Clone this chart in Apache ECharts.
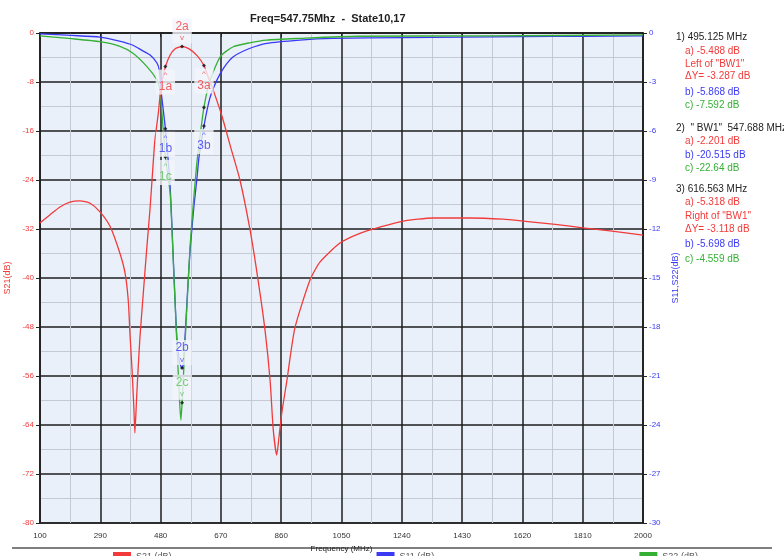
<!DOCTYPE html>
<html lang="en" style="height: 100%">
<head>
<meta charset="utf-8">
<title>Filter response</title>
</head>
<body style="height: 100%; margin: 0; background: #fff">
<div id="container" style="height: 100%"></div>

<script type="text/javascript" src="https://cdn.jsdelivr.net/npm/echarts@6/dist/echarts.min.js"></script>

<script type="text/javascript">

// frequency axis (MHz)
var xMin = 100;
var xMax = 2000;
var xStep = 190;

// S21 trace (left axis, dB)
var s21Freq = [100, 131, 163, 194, 226, 258, 289, 321, 352, 368, 378, 384, 390, 396, 399, 404, 409, 415,
  425, 436, 447, 456, 462, 473, 478, 486, 495.125, 510, 525, 547.688, 570, 595, 616.563, 630, 645,
  673, 700, 730, 762, 787, 809, 825, 835, 846, 853, 862, 878, 903, 951, 982, 1045, 1108, 1171, 1244,
  1338, 1455, 1559, 1622, 1716, 1811, 1896, 2000];
var s21Val = [-31.0, -29.7, -28.4, -27.6, -27.4, -27.8, -29.2, -31.6, -36.0, -39.2, -43.6, -49.6, -55.0,
  -61.5, -65.3, -60.0, -55.0, -49.6, -42.8, -35.4, -28.5, -21.7, -17.5, -13.0, -10.4, -7.5, -5.488,
  -3.6, -2.6, -2.201, -2.6, -3.7, -5.318, -7.2, -9.2, -13.5, -18.5, -24.0, -32.2, -40.3, -48.5,
  -56.7, -64.8, -68.9, -66.0, -62.0, -56.7, -48.2, -40.3, -37.4, -34.3, -32.7, -31.7, -30.7, -30.2,
  -30.2, -30.4, -30.7, -31.2, -31.8, -32.3, -33.0];

// S11 trace (right axis, dB)
var s11Freq = [100, 200, 289, 350, 393, 420, 447, 469, 476, 483, 495.125, 510, 520, 531, 540, 547.688,
  552, 557, 565, 573, 585, 594, 601, 616.563, 635, 657, 680, 709, 760, 814, 919, 1023, 1240, 1430,
  1620, 1810, 2000];
var s11Val = [-0.05, -0.15, -0.25, -0.5, -0.75, -1.05, -1.35, -1.85, -2.3, -3.8, -5.868, -9.4, -13.8,
  -18.6, -20.2, -20.515, -20.2, -18.6, -15.8, -13.3, -10.6, -9.0, -7.6, -5.698, -4.0, -2.9, -2.1,
  -1.45, -0.95, -0.63, -0.43, -0.33, -0.28, -0.25, -0.22, -0.2, -0.17];

// S22 trace (right axis, dB)
var s22Freq = [100, 200, 289, 350, 393, 437, 469, 476, 483, 495.125, 510, 520, 531, 540, 544, 547.688,
  552, 557, 565, 573, 585, 594, 605, 616.563, 630, 646, 670, 709, 760, 814, 919, 1100, 1500, 2000];
var s22Val = [-0.18, -0.35, -0.53, -0.8, -1.24, -2.06, -2.88, -3.3, -4.6, -7.592, -9.8, -14.0, -18.9,
  -22.6, -23.7, -22.64, -21.0, -19.0, -16.0, -13.0, -10.0, -8.0, -6.2, -4.559, -3.3, -2.37, -1.4,
  -0.84, -0.6, -0.43, -0.33, -0.2, -0.18, -0.12];

// markers
var markerFreq = [495.125, 547.688, 616.563];
var markerA = [-5.488, -2.201, -5.318];
var markerB = [-5.868, -20.515, -5.698];
var markerC = [-7.592, -22.64, -4.559];
var deltaY = [-3.287, -3.118];

var RED = '#f23a3a';
var BLUE = '#3a3af5';
var GREEN = '#35b035';
var FONT = '"Liberation Sans", Arial, sans-serif';

var dom = document.getElementById('container');
var myChart = echarts.init(dom);

function pts(freq, val) {
  return freq.map(function (f, i) { return [f - xMin, val[i]]; });
}

function markerItems(vals, names, up, color) {
  return markerFreq.map(function (f, i) {
    var nm = names[i];
    return {
      value: [f - xMin, vals[i]],
      label: {
        show: nm != null,
        position: up[i] ? 'top' : 'bottom',
        distance: 1,
        formatter: up[i] ? '{n|' + nm + '}\n{c|v}' : '{c|^}\n{n|' + nm + '}',
        backgroundColor: '#f2f5fb',
        padding: [1, 3],
        align: 'center',
        rich: {
          n: { fontSize: 12, color: color, lineHeight: 14, fontFamily: FONT, align: 'center' },
          c: { fontSize: 8, color: color, lineHeight: 9, fontFamily: FONT, align: 'center' }
        }
      }
    };
  });
}

var upFlags = [false, true, false];

// annotation text on the right
var annot = [
  ['1) ' + markerFreq[0] + ' MHz', '#222', 676, 38],
  ['a) ' + markerA[0] + ' dB', RED, 685, 52],
  ['Left of "BW1"', RED, 685, 65],
  ['\u0394Y= ' + deltaY[0] + ' dB', RED, 685, 77],
  ['b) ' + markerB[0] + ' dB', BLUE, 685, 93],
  ['c) ' + markerC[0] + ' dB', GREEN, 685, 106],
  ['2)  " BW1"  ' + markerFreq[1] + ' MHz', '#222', 676, 129],
  ['a) ' + markerA[1] + ' dB', RED, 685, 142],
  ['b) ' + markerB[1] + ' dB', BLUE, 685, 156],
  ['c) ' + markerC[1] + ' dB', GREEN, 685, 169],
  ['3) ' + markerFreq[2] + ' MHz', '#222', 676, 190],
  ['a) ' + markerA[2] + ' dB', RED, 685, 203],
  ['Right of "BW1"', RED, 685, 217],
  ['\u0394Y= ' + deltaY[1] + ' dB', RED, 685, 230],
  ['b) ' + markerB[2] + ' dB', BLUE, 685, 245],
  ['c) ' + markerC[2] + ' dB', GREEN, 685, 260]
];

var graphics = annot.map(function (a) {
  return {
    type: 'text',
    left: a[2],
    top: a[3] - 6,
    style: { text: a[0], fill: a[1], font: '10px ' + FONT }
  };
});
graphics.push({
  type: 'line',
  shape: { x1: 12, y1: 548, x2: 772, y2: 548 },
  style: { stroke: '#555', lineWidth: 1.5 }
});

var option = {
  backgroundColor: '#fff',
  animation: false,
  title: {
    text: 'Freq=547.75Mhz  -  State10,17',
    left: 250,
    top: 13,
    padding: 0,
    textStyle: { fontSize: 11, fontWeight: 'bold', color: '#222', fontFamily: FONT }
  },
  legend: {
    data: ['S21 (dB)', 'S11 (dB)', 'S22 (dB)'],
    left: 113,
    top: 552,
    padding: 0,
    itemGap: 205,
    itemWidth: 18,
    itemHeight: 10,
    icon: 'rect',
    selectedMode: false,
    textStyle: { fontSize: 9, fontFamily: FONT, color: '#555' }
  },
  grid: {
    left: 40,
    right: 141,
    top: 33,
    bottom: 33,
    outerBoundsMode: 'none',
    show: true,
    backgroundColor: '#eaf0fa',
    borderColor: '#333',
    borderWidth: 1.5
  },
  xAxis: {
    type: 'value',
    min: 0,
    max: xMax - xMin,
    interval: xStep,
    name: 'Frequency (MHz)',
    nameLocation: 'middle',
    nameGap: 17,
    nameTextStyle: { fontSize: 8, color: '#222', fontFamily: FONT },
    axisLine: { show: true, lineStyle: { color: '#222', width: 1.5 } },
    axisTick: { show: true, length: 4, lineStyle: { color: '#222' } },
    axisLabel: {
      fontSize: 8, color: '#333', margin: 9, fontFamily: FONT,
      formatter: function (v) { return v + xMin; }
    },
    splitLine: { show: true, lineStyle: { color: '#1e1e1e', width: 1.5 } },
    minorTick: { show: false, splitNumber: 2 },
    minorSplitLine: { show: true, lineStyle: { color: '#c4c9d2', width: 1 } }
  },
  yAxis: [
    {
      type: 'value',
      position: 'left',
      min: -80,
      max: 0,
      interval: 8,
      name: 'S21(dB)',
      nameLocation: 'middle',
      nameGap: 20,
      nameTextStyle: { fontSize: 9, color: RED, fontFamily: FONT },
      axisLine: { show: true, lineStyle: { color: '#222', width: 1.5 } },
      axisTick: { show: true, length: 4, lineStyle: { color: '#222' } },
      axisLabel: { fontSize: 8, color: RED, margin: 6, fontFamily: FONT },
      splitLine: { show: true, lineStyle: { color: '#1e1e1e', width: 1.5 } },
      minorTick: { show: false, splitNumber: 2 },
      minorSplitLine: { show: true, lineStyle: { color: '#c4c9d2', width: 1 } }
    },
    {
      type: 'value',
      position: 'right',
      min: -30,
      max: 0,
      interval: 3,
      name: 'S11,S22(dB)',
      nameLocation: 'middle',
      nameGap: 20,
      nameTextStyle: { fontSize: 9, color: BLUE, fontFamily: FONT },
      axisLine: { show: true, lineStyle: { color: '#222', width: 1.5 } },
      axisTick: { show: true, length: 4, lineStyle: { color: '#222' } },
      axisLabel: { fontSize: 8, color: BLUE, margin: 6, fontFamily: FONT },
      splitLine: { show: false }
    }
  ],
  series: [
    {
      name: 'S11 (dB)', type: 'line', yAxisIndex: 1, data: pts(s11Freq, s11Val),
      symbol: 'none', smooth: 0.2, z: 2,
      itemStyle: { color: BLUE }, lineStyle: { color: BLUE, width: 1.3 }
    },
    {
      name: 'S22 (dB)', type: 'line', yAxisIndex: 1, data: pts(s22Freq, s22Val),
      symbol: 'none', smooth: 0.2, z: 2,
      itemStyle: { color: GREEN }, lineStyle: { color: GREEN, width: 1.3 }
    },
    {
      name: 'S21 (dB)', type: 'line', yAxisIndex: 0, data: pts(s21Freq, s21Val),
      symbol: 'none', smooth: 0.2, z: 2,
      itemStyle: { color: RED }, lineStyle: { color: RED, width: 1.3 }
    },
    {
      name: 'mA', type: 'scatter', yAxisIndex: 0, z: 5, clip: false,
      symbol: 'diamond', symbolSize: 4, itemStyle: { color: '#111' },
      data: markerItems(markerA, ['1a', '2a', '3a'], upFlags, RED)
    },
    {
      name: 'mB', type: 'scatter', yAxisIndex: 1, z: 5, clip: false,
      symbol: 'diamond', symbolSize: 4, itemStyle: { color: '#111' },
      data: markerItems(markerB, ['1b', '2b', '3b'], upFlags, BLUE)
    },
    {
      name: 'mC', type: 'scatter', yAxisIndex: 1, z: 5, clip: false,
      symbol: 'diamond', symbolSize: 4, itemStyle: { color: '#111' },
      data: markerItems(markerC, ['1c', '2c', null], upFlags, '#5cbf5c')
    }
  ],
  graphic: graphics
};

if (option && typeof option === 'object') {
  myChart.setOption(option);
}

window.addEventListener('resize', myChart.resize);
</script>
</body>
</html>
